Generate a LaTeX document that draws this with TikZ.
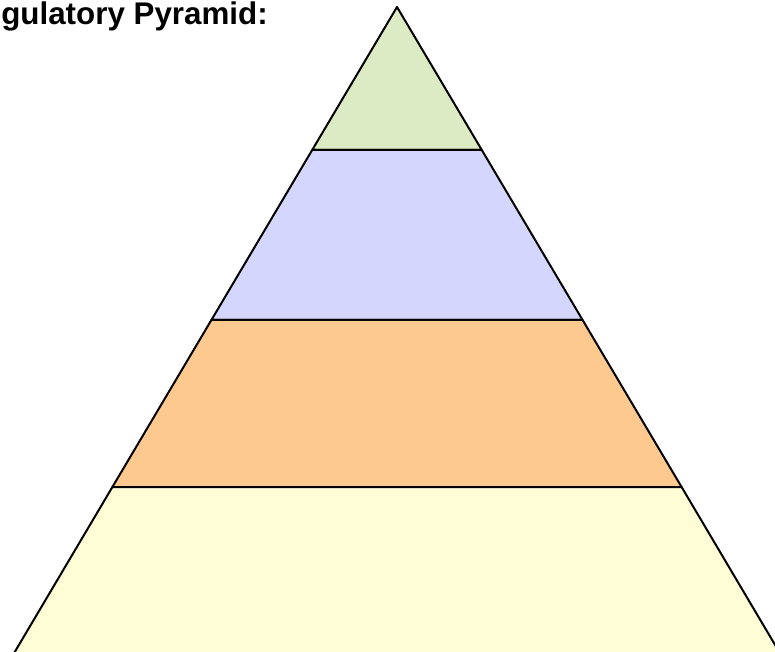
\documentclass[tikz,border=0pt]{standalone}
\usepackage{fontspec}
\setmainfont{Liberation Sans}
\definecolor{tiergreen}{HTML}{DCEBC4}
\definecolor{tierblue}{HTML}{D5D6FD}
\definecolor{tierorange}{HTML}{FDC98F}
\definecolor{tieryellow}{HTML}{FFFDD6}

\begin{document}
\begin{tikzpicture}[x=0.75pt,y=-0.75pt,
  tier/.style={draw=black, line width=1.5pt, line join=round}]
\useasboundingbox (0,0) rectangle (775,652);
\clip (0,0) rectangle (775,652);
% level corners
\coordinate (apex) at (397,7);
\coordinate (l1) at (312.2,150); \coordinate (r1) at (481.8,150);
\coordinate (l2) at (211.4,320); \coordinate (r2) at (582.6,320);
\coordinate (l3) at (112.4,487); \coordinate (r3) at (681.6,487);
\coordinate (l4) at (10,660);    \coordinate (r4) at (784,660);
% tiers, top to bottom
\filldraw[tier, fill=tiergreen] (apex) -- (r1) -- (l1) -- cycle;
\filldraw[tier, fill=tierblue] (l1) -- (r1) -- (r2) -- (l2) -- cycle;
\filldraw[tier, fill=tierorange] (l2) -- (r2) -- (r3) -- (l3) -- cycle;
\filldraw[tier, fill=tieryellow] (l3) -- (r3) -- (r4) -- (l4) -- cycle;
\node[anchor=base east, inner sep=0pt, font=\fontsize{23.5}{28}\selectfont\bfseries] (title) at (268,25) {Regulatory Pyramid:};
\end{tikzpicture}
\end{document}
